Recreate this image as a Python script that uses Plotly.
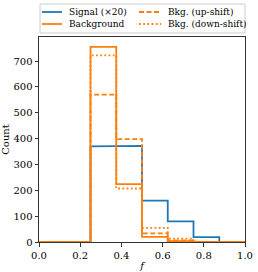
import plotly.graph_objects as go

# ---- data ----
bin_edges = [0.0, 0.125, 0.25, 0.375, 0.5, 0.625, 0.75, 0.875, 1.0]
signal_x20 = [0, 0, 370, 372, 160, 80, 19, 0]
background = [0, 0, 755, 224, 20, 3, 0, 0]
bkg_up = [0, 0, 570, 398, 33, 6, 0, 0]
bkg_down = [0, 0, 722, 207, 55, 13, 1, 0]
x_ticks = [0.0, 0.2, 0.4, 0.6, 0.8, 1.0]
y_ticks = [0, 100, 200, 300, 400, 500, 600, 700]

series = [
    ("Signal (×20)", signal_x20, "#1f77b4", "solid"),
    ("Background", background, "#ff7f0e", "solid"),
    ("Bkg. (up-shift)", bkg_up, "#ff7f0e", "5px,2.5px"),
    ("Bkg. (down-shift)", bkg_down, "#ff7f0e", "1.8px,2.4px"),
]


def step_xy(edges, vals):
    xs, ys = [edges[0]], [0]
    for i, v in enumerate(vals):
        xs += [edges[i], edges[i + 1]]
        ys += [v, v]
    xs.append(edges[-1])
    ys.append(0)
    return xs, ys


W, H = 258, 272
L, R, T, B = 39, 13, 37, 30
pw, ph = W - L - R, H - T - B

fig = go.Figure()
for name, vals, color, dash in series:
    xs, ys = step_xy(bin_edges, vals)
    fig.add_trace(go.Scatter(x=xs, y=ys, mode="lines", name=name,
                             line=dict(color=color, width=1.8, dash=dash),
                             showlegend=False, hoverinfo="skip"))

font = "DejaVu Serif"


def px(xp):
    return (xp - L) / pw


def py(yp):
    return (H - B - yp) / ph


shapes = [dict(type="rect", xref="paper", yref="paper",
               x0=px(40), x1=px(245), y0=py(33), y1=py(4),
               line=dict(color="#cccccc", width=1), fillcolor="white", layer="above")]
annotations = []
legend_pos = [(42, 62, 67, 12), (42, 62, 67, 24), (139, 161, 166, 12), (139, 161, 166, 24)]
for (name, vals, color, dash), (lx0, lx1, tx, ly) in zip(series, legend_pos):
    shapes.append(dict(type="line", xref="paper", yref="paper",
                       x0=px(lx0), x1=px(lx1), y0=py(ly), y1=py(ly),
                       line=dict(color=color, width=1.8, dash=dash), layer="above"))
    annotations.append(dict(text=name, xref="paper", yref="paper", x=px(tx), y=py(ly),
                            xanchor="left", yanchor="middle", showarrow=False,
                            font=dict(family=font, size=9, color="black")))

tickfont = dict(family=font, size=10, color="black")
fig.update_layout(
    width=W, height=H,
    margin=dict(l=L, r=R, t=T, b=B, autoexpand=False),
    paper_bgcolor="white", plot_bgcolor="white",
    font=dict(family=font, size=10, color="black"),
    shapes=shapes, annotations=annotations,
    showlegend=False,
)
fig.update_xaxes(range=[0, 1], tickvals=x_ticks, ticktext=[f"{v:.1f}" for v in x_ticks],
                 ticks="outside", ticklen=3.5, tickwidth=0.8, tickcolor="#333",
                 tickfont=tickfont, automargin=False,
                 showline=True, linecolor="#333", linewidth=1, mirror=True,
                 showgrid=False, zeroline=False,
                 title=dict(text="<i>f</i>", standoff=2, font=dict(family=font, size=10)))
fig.update_yaxes(range=[0, 793], tickvals=y_ticks,
                 ticks="outside", ticklen=3.5, tickwidth=0.8, tickcolor="#333",
                 tickfont=tickfont, automargin=False,
                 showline=True, linecolor="#333", linewidth=1, mirror=True,
                 showgrid=False, zeroline=False,
                 title=dict(text="Count", standoff=4, font=dict(family=font, size=10)))

fig.write_html("out.html", config={"displayModeBar": False},
               post_script="document.body.style.margin='0';document.body.style.overflow='hidden';")
